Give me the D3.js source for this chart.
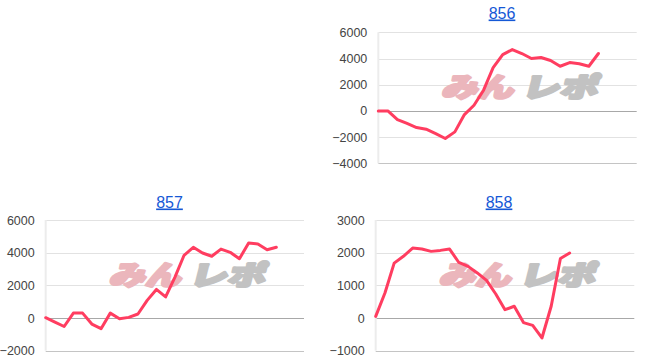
<!DOCTYPE html>
<html>
<head>
<meta charset="utf-8">
<script src="https://cdn.jsdelivr.net/npm/d3@7"></script>
<style>
  body { margin: 0; background: #fff; }
  svg { display: block; font-family: Arial, "Liberation Sans", sans-serif; }
</style>
</head>
<body>
<div id="chart"></div>
<script>
// machine numbers shown as titles
const titles = ["856", "857", "858"];

// running difference per day (null = no data)
const values856 = [0, 0, -660, -960, -1270, -1400, -1730, -2110, -1600, -280, 435, 1580,
  3300, 4300, 4680, 4380, 4000, 4080, 3850, 3410, 3690, 3600, 3410, 4380];
const values857 = [20, -250, -520, 300, 300, -370, -650, 300, -40, 40, 245, 1080,
  1750, 1290, 2490, 3840, 4330, 3980, 3780, 4220, 4020, 3630, 4590, 4530, 4180, 4330];
const values858 = [50, 765, 1680, 1890, 2140, 2110, 2040, 2070, 2110, 1700, 1580, 1380,
  1150, 735, 255, 360, -140, -225, -610, 360, 1820, 1990];

// number of day slots on each x axis
const slots856 = 28;
const slots857 = 29;
const slots858 = 29;

// y tick labels
const yTicks856 = [-4000, -2000, 0, 2000, 4000, 6000];
const yTicks857 = [-2000, 0, 2000, 4000, 6000];
const yTicks858 = [-1000, 0, 1000, 2000, 3000];

const width = 650, height = 363;

const svg = d3.select("#chart")
  .append("svg")
  .attr("width", width)
  .attr("height", height);

// layout of each small chart (plot area in page pixels)
const panels = [
  { title: titles[0], values: values856, slots: slots856, ticks: yTicks856,
    left: 378.3, right: 636.7, top: 32.3, bottom: 163.3, titleX: 502, titleY: 18.5 },
  { title: titles[1], values: values857, slots: slots857, ticks: yTicks857,
    left: 45.7, right: 304, top: 220, bottom: 350.7, titleX: 169.5, titleY: 207.5 },
  { title: titles[2], values: values858, slots: slots858, ticks: yTicks858,
    left: 375.7, right: 634.3, top: 220, bottom: 350.7, titleX: 499, titleY: 207.5 }
];

panels.forEach(drawPanel);

function drawPanel(p) {
  const g = svg.append("g");

  const x = d3.scaleLinear()
    .domain([0, p.slots - 1])
    .range([p.left, p.right]);

  const y = d3.scaleLinear()
    .domain(d3.extent(p.ticks))
    .range([p.bottom, p.top]);

  // title as a link
  g.append("text")
    .attr("x", p.titleX)
    .attr("y", p.titleY)
    .attr("text-anchor", "middle")
    .attr("font-size", 16)
    .attr("fill", "#1558d6")
    .attr("text-decoration", "underline")
    .text(p.title);

  // horizontal grid lines
  const lo = d3.min(p.ticks);
  g.append("g")
    .selectAll("line")
    .data(p.ticks)
    .join("line")
    .attr("x1", p.left)
    .attr("x2", p.right)
    .attr("y1", d => Math.round(y(d)) + 0.5)
    .attr("y2", d => Math.round(y(d)) + 0.5)
    .attr("stroke", d => d === 0 ? "#a8a8a8" : (d === lo ? "#c4c4c4" : "#e2e2e2"))
    .attr("stroke-width", 1);

  // faint left axis
  g.append("line")
    .attr("x1", p.left)
    .attr("x2", p.left)
    .attr("y1", p.top)
    .attr("y2", p.bottom)
    .attr("stroke", "#ececec")
    .attr("stroke-width", 2);

  // y axis labels
  const axis = d3.axisLeft(y)
    .tickValues(p.ticks)
    .tickFormat(d3.format("d"))
    .tickSize(0)
    .tickPadding(11);
  const ax = g.append("g")
    .attr("transform", `translate(${p.left},0)`)
    .call(axis);
  ax.select(".domain").remove();
  ax.selectAll("text")
    .attr("font-family", "Arial, 'Liberation Sans', sans-serif")
    .attr("font-size", 12.5)
    .attr("fill", "#444");

  // watermark logo
  const wm = g.append("g")
    .attr("transform", `translate(${p.left + 63},${p.top + 65}) skewX(-14)`)
    .attr("font-family", "'Noto Sans CJK JP', sans-serif")
    .attr("font-weight", 900)
    .attr("font-size", 27)
    .attr("stroke-width", 2.6)
    .attr("stroke-linejoin", "round");
  wm.append("text")
    .attr("x", 0)
    .attr("y", 0)
    .attr("textLength", 72)
    .attr("lengthAdjust", "spacingAndGlyphs")
    .attr("fill", "#ebb6bc")
    .attr("stroke", "#ebb6bc")
    .text("みん");
  wm.append("text")
    .attr("x", 80)
    .attr("y", 0)
    .attr("textLength", 76)
    .attr("lengthAdjust", "spacingAndGlyphs")
    .attr("fill", "#c2c2c2")
    .attr("stroke", "#c2c2c2")
    .text("レポ");

  // data line
  const line = d3.line()
    .defined(d => d != null)
    .x((d, i) => x(i))
    .y(d => y(d));

  g.append("path")
    .datum(p.values)
    .attr("fill", "none")
    .attr("stroke", "#ff3d60")
    .attr("stroke-width", 3)
    .attr("stroke-linejoin", "round")
    .attr("stroke-linecap", "round")
    .attr("d", line);
}
</script>
</body>
</html>
